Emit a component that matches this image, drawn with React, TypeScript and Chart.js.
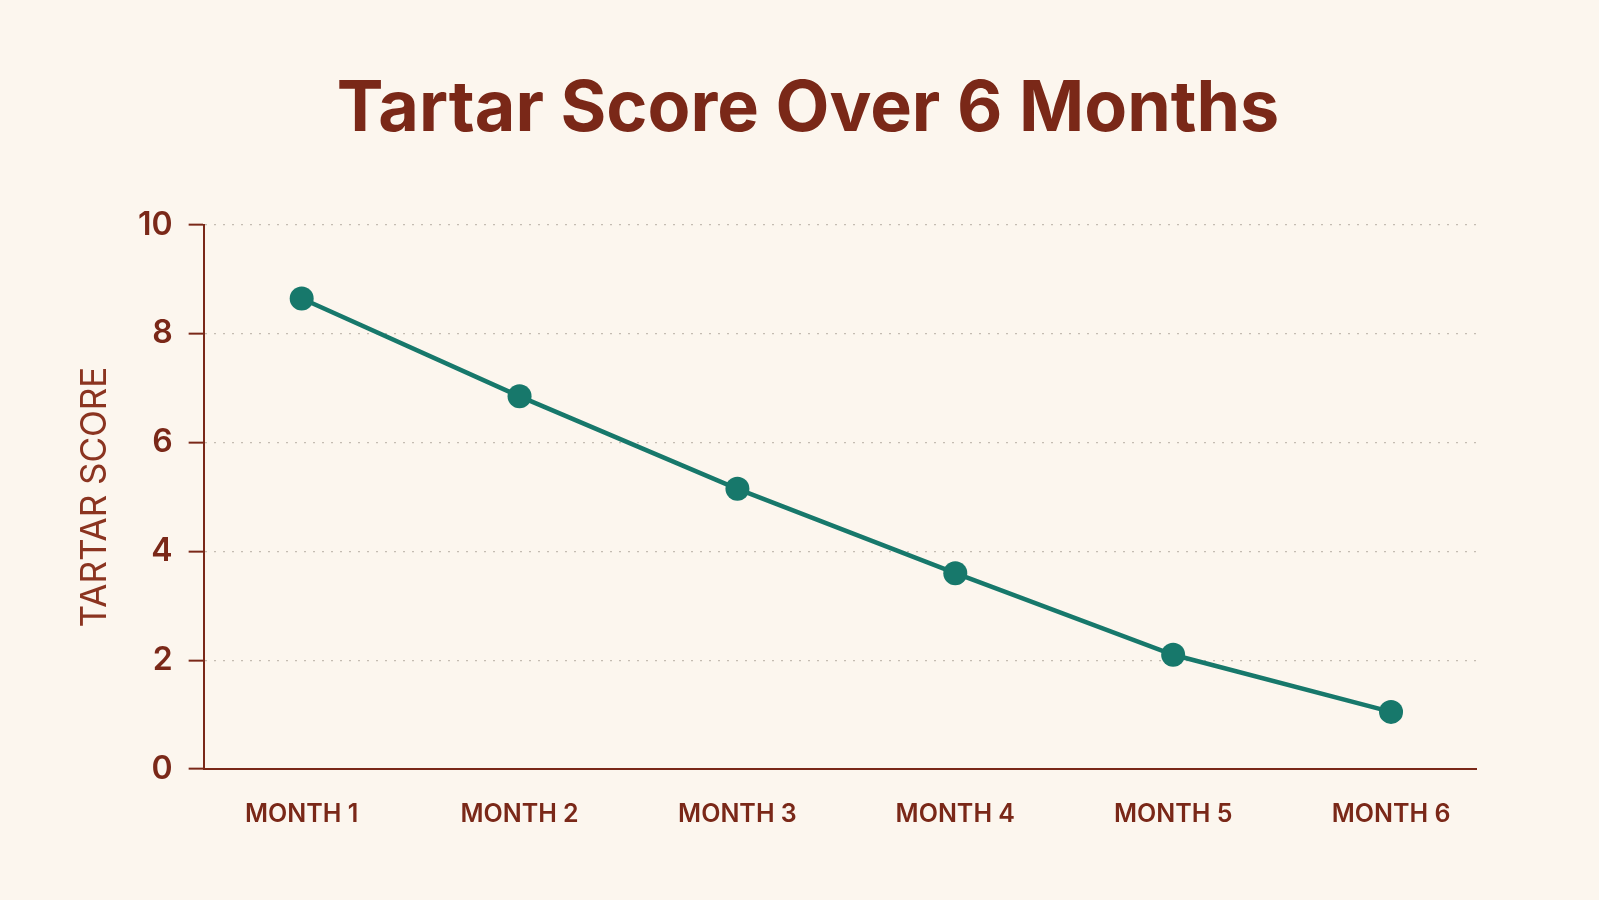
import { Chart, registerables } from 'chart.js';
import { useEffect, useRef } from 'react';

Chart.register(...registerables);

// chart data
const months = ['MONTH 1', 'MONTH 2', 'MONTH 3', 'MONTH 4', 'MONTH 5', 'MONTH 6'];
const tartarScores = [8.65, 6.85, 5.15, 3.6, 2.1, 1.05];
const scoreTicks = [0, 2, 4, 6, 8, 10];

const BROWN = '#7a2818';
const TEAL = '#17786b';
const BG = '#fcf6ee';

const TartarChart = () => {
  const canvasRef = useRef<HTMLCanvasElement | null>(null);

  useEffect(() => {
    if (!canvasRef.current) return;
    document.body.style.margin = '0';
    document.body.style.background = BG;

    // month n sits at x = n on a linear axis, labelled from the months array
    const points = tartarScores.map((score, i) => ({ x: i + 1, y: score }));

    const chart = new Chart(canvasRef.current, {
      type: 'line',
      data: {
        datasets: [
          {
            label: 'Tartar Score',
            data: points,
            borderColor: TEAL,
            backgroundColor: TEAL,
            borderWidth: 4.5,
            pointRadius: 12,
            pointHoverRadius: 12,
            pointBorderWidth: 0,
            tension: 0,
          },
        ],
      },
      options: {
        animation: false,
        responsive: true,
        maintainAspectRatio: false,
        layout: { padding: { left: 72, right: 55, top: 0, bottom: 41 } },
        plugins: {
          legend: { display: false },
          tooltip: { enabled: false },
          title: {
            display: true,
            text: 'Tartar Score Over 6 Months',
            color: BROWN,
            font: { family: 'Inter', size: 70, weight: 'bold' },
            padding: { top: 68, bottom: 73 },
          },
        },
        scales: {
          x: {
            type: 'linear',
            min: 0.55,
            max: 6.39,
            afterBuildTicks: (scale) => {
              scale.ticks = months.map((_, i) => ({ value: i + 1 }));
            },
            grid: { display: false, drawTicks: false },
            border: { display: true, color: BROWN, width: 2 },
            ticks: {
              color: BROWN,
              padding: 30,
              font: { family: 'Inter', size: 25, weight: 600 },
              callback: (value) => months[Number(value) - 1] ?? '',
            },
          },
          y: {
            min: 0,
            max: 10,
            afterBuildTicks: (scale) => {
              scale.ticks = scoreTicks.map((v) => ({ value: v }));
            },
            ticks: {
              color: BROWN,
              padding: 16,
              font: { family: 'Inter', size: 32, weight: 600 },
            },
            grid: {
              color: '#c4bcb2',
              lineWidth: 1.3,
              tickLength: 15,
              tickColor: BROWN,
              tickWidth: 2,
            },
            border: { display: true, color: BROWN, width: 2, dash: [2, 7] },
            title: {
              display: true,
              text: 'TARTAR SCORE',
              color: '#8b3420',
              font: { family: 'Inter', size: 35, weight: 'normal' },
              padding: { top: 2, bottom: 6 },
            },
          },
          // empty right-hand spacer so the title sits centred on the page
          spacer: {
            position: 'right',
            display: true,
            grid: { display: false },
            border: { display: false },
            ticks: { display: false },
            afterFit: (scale) => {
              scale.width = 68;
            },
          },
        },
      },
    });

    return () => {
      chart.destroy();
    };
  }, []);

  return (
    <div style={{ position: 'fixed', left: 0, top: 0, width: 1599, height: 900, background: BG }}>
      <canvas ref={canvasRef}></canvas>
    </div>
  );
};

export default function App() {
  return <TartarChart />;
}
